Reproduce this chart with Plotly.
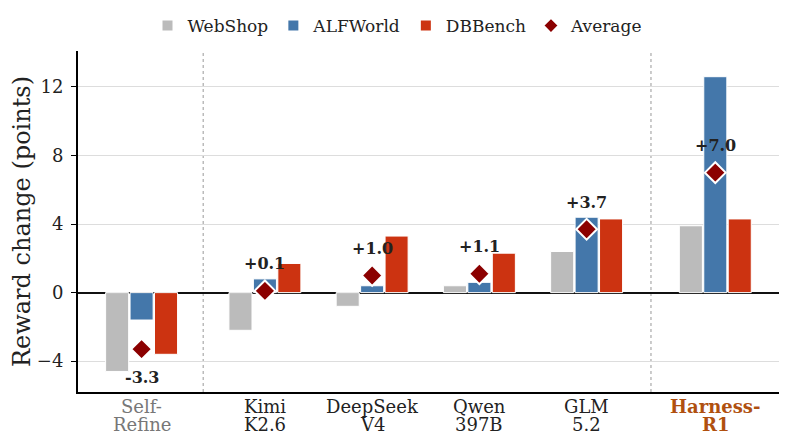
import plotly.graph_objects as go

# categories (two text lines each) and positions; extra gap around first and last group
cat_line1 = ['Self-', 'Kimi', 'DeepSeek', 'Qwen', 'GLM', 'Harness-']
cat_line2 = ['Refine', 'K2.6', 'V4', '397B', '5.2', 'R1']
positions = [0, 1.15, 2.15, 3.15, 4.15, 5.35]

webshop = [-4.6, -2.2, -0.8, 0.4, 2.4, 3.9]
alfworld = [-1.6, 0.8, 0.4, 0.6, 4.4, 12.6]
dbbench = [-3.6, 1.7, 3.3, 2.3, 4.3, 4.3]
average = [-3.3, 0.1, 1.0, 1.1, 3.7, 7.0]
avg_labels = ['-3.3', '+0.1', '+1.0', '+1.1', '+3.7', '+7.0']

FONT = 'DejaVu Serif'
TXT = '#222222'
bar_w = 0.215
series = [
    ('WebShop', webshop, '#BBBBBB', -0.3355),
    ('ALFWorld', alfworld, '#4477AA', -0.1075),
    ('DBBench', dbbench, '#CC3311', 0.1205),
]

fig = go.Figure()
for name, vals, color, off in series:
    fig.add_trace(go.Bar(x=positions, y=vals, name=name, width=bar_w, offset=off,
                         marker=dict(color=color, line=dict(color='white', width=1))))

fig.add_trace(go.Scatter(x=positions, y=average, mode='markers', name='Average',
                         marker=dict(symbol='diamond', size=16, color='#8B0000',
                                     line=dict(color='white', width=2))))

for xp, yv, lab in zip(positions, average, avg_labels):
    fig.add_annotation(x=xp, y=yv, text='<b>' + lab + '</b>', showarrow=False,
                       yshift=27 if yv >= 0 else -28,
                       font=dict(family=FONT, size=16, color=TXT))

# category labels under the axis, two lines with tight spacing
for i, (xp, l1, l2) in enumerate(zip(positions, cat_line1, cat_line2)):
    color = TXT
    if i == 0:
        color = '#777777'
    if i == len(positions) - 1:
        color = '#B0500F'
        l1, l2 = '<b>' + l1 + '</b>', '<b>' + l2 + '</b>'
    for txt, shift in [(l1, -14), (l2, -32)]:
        fig.add_annotation(x=xp, y=0, yref='paper', text=txt, showarrow=False,
                           yanchor='middle', yshift=shift, borderpad=0,
                           font=dict(family=FONT, size=18, color=color))

# group separators
for xs in [0.575, 4.75]:
    fig.add_shape(type='line', x0=xs, x1=xs, y0=0, y1=1, xref='x', yref='paper',
                  line=dict(color='#BBBBBB', width=1.5, dash='dot'), layer='below')

# page body has an 8px margin, so the figure is sized/margined to compensate
fig.update_layout(
    width=779, height=427,
    margin=dict(l=70, r=2, t=43, b=43),
    plot_bgcolor='white', paper_bgcolor='white',
    barmode='overlay',
    font=dict(family=FONT, size=18, color=TXT),
    legend=dict(orientation='h', x=0.5, xanchor='center', xref='container',
                y=1.0, yanchor='top', yref='container',
                font=dict(family=FONT, size=17, color=TXT),
                itemwidth=30, itemsizing='constant'),
    showlegend=True,
)

fig.update_xaxes(range=[-0.593, 6.0], showticklabels=False, automargin=False,
                 showgrid=False, zeroline=False, showline=True, linecolor='black', linewidth=2,
                 ticks='')
fig.update_yaxes(range=[-5.8, 14.1], tickvals=[-4, 0, 4, 8, 12],
                 ticktext=['\u22124', '0', '4', '8', '12'], automargin=False,
                 showgrid=True, gridcolor='#DDDDDD', gridwidth=1,
                 zeroline=True, zerolinecolor='#111111', zerolinewidth=2,
                 showline=True, linecolor='black', linewidth=2,
                 ticks='outside', ticklen=5, tickcolor='black', ticklabelstandoff=4,
                 tickfont=dict(family=FONT, size=18, color=TXT),
                 title=dict(text='Reward change (points)', font=dict(family=FONT, size=24, color=TXT),
                            standoff=8))

fig.write_html('out.html')
